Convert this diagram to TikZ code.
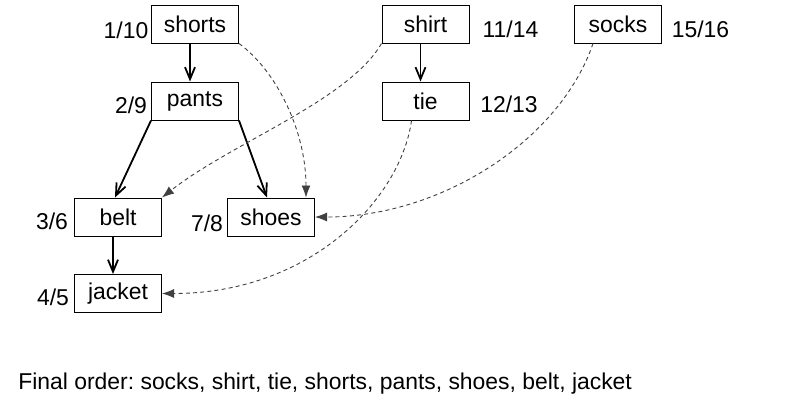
\documentclass[tikz,border=0pt]{standalone}
\usepackage{fontspec}
\setmainfont{Liberation Sans}
\usetikzlibrary{arrows.meta}

\begin{document}
\frenchspacing
\begin{tikzpicture}[x=0.5pt, y=-0.5pt,
	font=\fontsize{11.45}{14}\selectfont,
	box/.style={draw, line width=0.5pt, minimum width=43.5pt, minimum height=19pt, inner sep=0pt},
	num/.style={inner sep=0pt},
	dep/.style={line width=0.9pt, -{Straight Barb[length=6pt, width=5pt]}},
	later/.style={black!75, line width=0.45pt, dash pattern=on 2pt off 1.6pt, -{Latex[length=6pt, width=4.5pt]}}]
		\useasboundingbox (0,0) rectangle (795,403);

		\node[box] (shorts) at (195,24) {shorts};
		\node[box] (pants) at (195,101) {pants};
		\node[box] (shirt) at (425.5,24) {shirt};
		\node[box] (tie) at (425.5,101) {tie};
		\node[box] (socks) at (618,24) {socks};
		\node[box] (belt) at (118,217) {belt};
		\node[box] (shoes) at (271,217) {shoes};
		\node[box] (jacket) at (118,293.5) {jacket};

		\node[num] (nshorts) at (126,30.5) {1/10};
		\node[num] (npants) at (131,105) {2/9};
		\node[num] (nshirt) at (510.5,29.5) {11/14};
		\node[num] (ntie) at (509,104) {12/13};
		\node[num] (nsocks) at (700.5,29) {15/16};
		\node[num] (nbelt) at (52,221) {3/6};
		\node[num] (nshoes) at (207,223) {7/8};
		\node[num] (njacket) at (53,297) {4/5};

		\path[dep] ([xshift=-2.5pt]shorts.south) edge ([xshift=-2.5pt]pants.north);
		\path[dep] (pants.south west) edge ([xshift=-1.5pt]belt.north);
		\path[dep] (pants.south east) edge ([xshift=-2pt]shoes.north);
		\path[dep] ([xshift=-2.5pt]belt.south) edge ([xshift=-2.5pt]jacket.north);
		\path[dep] ([xshift=-2.5pt]shirt.south) edge ([xshift=-2.5pt]tie.north);

		\draw[later] (shorts.south east) .. controls +(37,27) and +(0,-67) .. ([xshift=-4.5pt]shoes.north east);
		\draw[later] (shirt.south west) .. controls +(-33,57) and +(70,-55) .. (belt.north east);
		\draw[later] ([xshift=-7pt]tie.south) .. controls +(-11,79) and +(148,0) .. (jacket.east);
		\draw[later] ([xshift=9.5pt]socks.south west) .. controls +(-33,97) and +(126,0) .. (shoes.east);

		\node[anchor=base west, inner sep=0pt] (order) at (18,389) {Final order: socks, shirt, tie, shorts, pants, shoes, belt, jacket};
\end{tikzpicture}
\end{document}
